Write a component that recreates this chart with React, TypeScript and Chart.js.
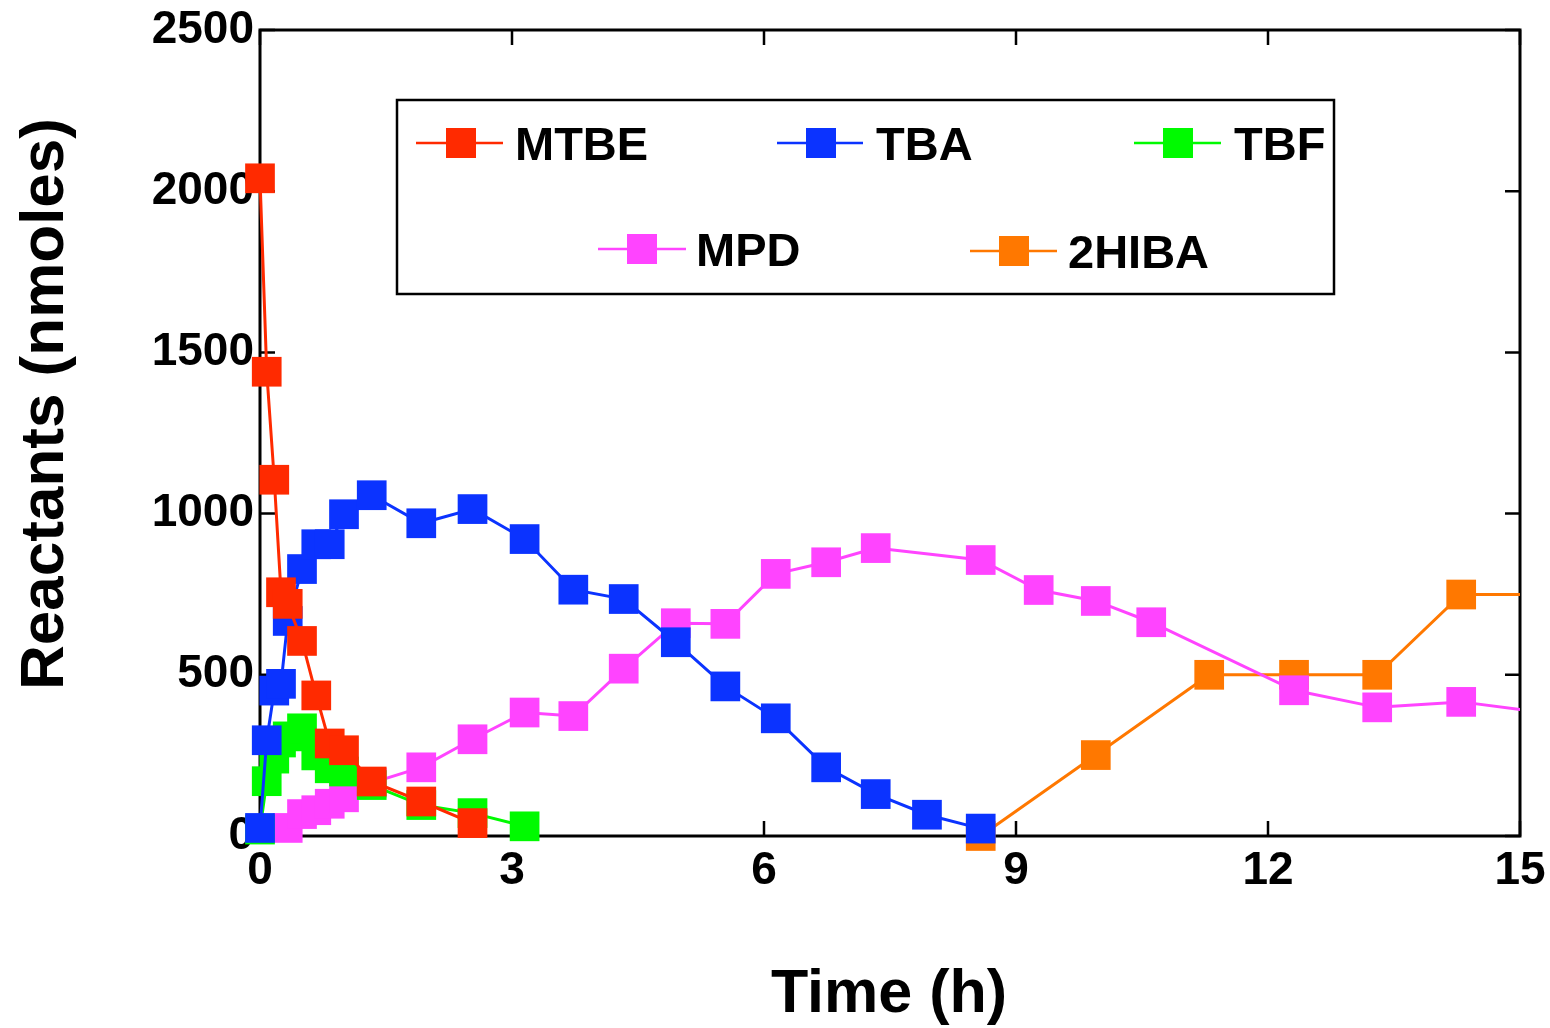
import React, { useEffect, useRef } from "react";
import { Chart, registerables } from "chart.js";

Chart.register(...registerables);

// ---- data ----
const SERIES_NAMES = ["MTBE", "TBA", "TBF", "MPD", "2HIBA"];

const MTBE_T = [0, 0.08, 0.17, 0.25, 0.33, 0.5, 0.67, 0.83, 1.0, 1.33, 1.92, 2.53];
const MTBE_V = [2040, 1440, 1105, 756, 720, 605, 436, 287, 266, 169, 107, 40];

const TBA_T = [0, 0.08, 0.17, 0.25, 0.33, 0.5, 0.67, 0.83, 1.0, 1.33, 1.92, 2.53, 3.15, 3.73, 4.33, 4.95, 5.54, 6.14, 6.74, 7.33, 7.94, 8.58];
const TBA_V = [25, 297, 451, 472, 667, 828, 905, 905, 998, 1057, 970, 1014, 921, 764, 735, 601, 464, 365, 213, 130, 66, 23];

const TBF_T = [0, 0.08, 0.17, 0.25, 0.33, 0.5, 0.67, 0.83, 1.0, 1.33, 1.92, 2.53, 3.15];
const TBF_V = [20, 170, 240, 290, 309, 334, 250, 210, 200, 158, 96, 71, 30];

const MPD_T = [0.33, 0.5, 0.67, 0.83, 1.0, 1.33, 1.92, 2.53, 3.15, 3.73, 4.33, 4.95, 5.54, 6.14, 6.74, 7.33, 8.58, 9.27, 9.95, 10.61, 12.31, 13.3, 14.3, 15.3];
const MPD_V = [25, 68, 80, 100, 120, 165, 213, 300, 383, 372, 519, 660, 658, 813, 849, 893, 856, 763, 729, 663, 452, 399, 416, 382];

const HIBA_T = [8.58, 9.95, 11.3, 12.31, 13.3, 14.3, 15.3];
const HIBA_V = [0, 251, 500, 500, 500, 749, 749];

const X_TICKS = [0, 3, 6, 9, 12, 15];
const Y_TICKS = [0, 500, 1000, 1500, 2000, 2500];

const X_TITLE = "Time (h)";
const Y_TITLE = "Reactants (nmoles)";

// ---- styles ----
const COLORS = ["#ff2a00", "#0b33ff", "#00fa00", "#ff44ff", "#ff7800"];
const FONT = '"Liberation Sans", Arial, Helvetica, sans-serif';

const LEGEND_BOX = { x: 397, y: 100, w: 937, h: 194 };
const LEGEND_POS = [
  { x0: 416, x1: 503, mx: 461, tx: 515, y: 143 },
  { x0: 777, x1: 863, mx: 821, tx: 876, y: 143 },
  { x0: 1134, x1: 1221, mx: 1178, tx: 1234, y: 143 },
  { x0: 598, x1: 686, mx: 642, tx: 696, y: 249 },
  { x0: 970, x1: 1057, mx: 1014, tx: 1068, y: 251 },
];

const toPoints = (t: number[], v: number[]) => t.map((x, i) => ({ x, y: v[i] }));

const framePlugin = {
  id: "frame",
  beforeDatasetsDraw(chart: any) {
    const { ctx, chartArea } = chart;
    const { left, right, top, bottom } = chartArea;
    const xs = chart.scales.x;
    const ys = chart.scales.y;
    ctx.save();
    ctx.strokeStyle = "#000";
    ctx.lineWidth = 3;
    ctx.strokeRect(left, top, right - left, bottom - top);
    ctx.lineWidth = 2.5;
    const tl = 15;
    ctx.beginPath();
    X_TICKS.forEach((t) => {
      const px = xs.getPixelForValue(t);
      ctx.moveTo(px, bottom);
      ctx.lineTo(px, bottom - tl);
      ctx.moveTo(px, top);
      ctx.lineTo(px, top + tl);
    });
    Y_TICKS.forEach((v) => {
      const py = ys.getPixelForValue(v);
      ctx.moveTo(left, py);
      ctx.lineTo(left + tl, py);
      ctx.moveTo(right, py);
      ctx.lineTo(right - tl, py);
    });
    ctx.stroke();
    ctx.restore();
  },
  afterDraw(chart: any) {
    const { ctx } = chart;
    ctx.save();
    // axis titles
    ctx.fillStyle = "#000";
    ctx.font = `bold 61px ${FONT}`;
    ctx.textAlign = "center";
    ctx.textBaseline = "alphabetic";
    ctx.fillText(X_TITLE, 889, 1012);
    ctx.save();
    ctx.translate(63, 404);
    ctx.rotate(-Math.PI / 2);
    ctx.font = `bold 62px ${FONT}`;
    ctx.fillText(Y_TITLE, 0, 0);
    ctx.restore();

    // legend
    ctx.fillStyle = "#fff";
    ctx.fillRect(LEGEND_BOX.x, LEGEND_BOX.y, LEGEND_BOX.w, LEGEND_BOX.h);
    ctx.strokeStyle = "#000";
    ctx.lineWidth = 2.5;
    ctx.strokeRect(LEGEND_BOX.x, LEGEND_BOX.y, LEGEND_BOX.w, LEGEND_BOX.h);
    chart.data.datasets.forEach((ds: any, i: number) => {
      const p = LEGEND_POS[i];
      ctx.strokeStyle = ds.borderColor;
      ctx.lineWidth = 2.5;
      ctx.beginPath();
      ctx.moveTo(p.x0, p.y);
      ctx.lineTo(p.x1, p.y);
      ctx.stroke();
      ctx.fillStyle = ds.backgroundColor;
      ctx.fillRect(p.mx - 15, p.y - 15, 30, 30);
      ctx.fillStyle = "#000";
      ctx.font = `bold 47px ${FONT}`;
      ctx.textAlign = "left";
      ctx.textBaseline = "alphabetic";
      ctx.fillText(ds.label, p.tx, p.y + 17);
    });
    ctx.restore();
  },
};

export default function App() {
  const ref = useRef<HTMLCanvasElement | null>(null);

  useEffect(() => {
    if (!ref.current) return;
    const seriesT = [MTBE_T, TBA_T, TBF_T, MPD_T, HIBA_T];
    const seriesV = [MTBE_V, TBA_V, TBF_V, MPD_V, HIBA_V];
    const datasets = SERIES_NAMES.map((name, i) => ({
      label: name,
      data: toPoints(seriesT[i], seriesV[i]),
      borderColor: COLORS[i],
      backgroundColor: COLORS[i],
      borderWidth: 3,
      pointStyle: "rect",
      pointRadius: 21,
      pointHoverRadius: 21,
      pointBorderWidth: 0,
      pointBackgroundColor: COLORS[i],
      tension: 0,
      fill: false,
      clip: { left: 40, top: 40, right: 0, bottom: 40 },
    }));

    const tickFont = { family: FONT, size: 46, weight: "bold" as const };

    const chart = new Chart(ref.current, {
      type: "line",
      data: { datasets },
      options: {
        responsive: false,
        animation: false,
        devicePixelRatio: 1,
        layout: { padding: 0 },
        plugins: { legend: { display: false }, tooltip: { enabled: false } },
        events: [],
        scales: {
          x: {
            type: "linear",
            min: 0,
            max: 15,
            afterBuildTicks: (scale: any) => {
              scale.ticks = X_TICKS.map((v) => ({ value: v }));
            },
            ticks: {
              font: tickFont,
              color: "#000",
              padding: 8,
              maxRotation: 0,
              autoSkip: false,
              callback: (v: any) => String(v),
            },
            grid: { display: false, drawTicks: false },
            border: { display: false },
            afterFit: (scale: any) => {
              scale.height = 192;
              scale.paddingLeft = 0;
              scale.paddingRight = 30;
              scale.paddingTop = 0;
              scale.paddingBottom = 0;
            },
          },
          y: {
            type: "linear",
            min: 0,
            max: 2500,
            afterBuildTicks: (scale: any) => {
              scale.ticks = Y_TICKS.map((v) => ({ value: v }));
            },
            ticks: {
              font: tickFont,
              color: "#000",
              padding: 6,
              callback: (v: any) => String(v),
            },
            grid: { display: false, drawTicks: false },
            border: { display: false },
            afterFit: (scale: any) => {
              scale.width = 260;
              scale.paddingTop = 30;
              scale.paddingBottom = 0;
              scale.paddingLeft = 0;
              scale.paddingRight = 0;
            },
          },
        },
      } as any,
      plugins: [framePlugin],
    });
    return () => chart.destroy();
  }, []);

  return (
    <div style={{ position: "absolute", left: 0, top: 0, width: 1550, height: 1028, background: "#fff" }}>
      <canvas ref={ref} width={1550} height={1028} style={{ display: "block" }} />
    </div>
  );
}
